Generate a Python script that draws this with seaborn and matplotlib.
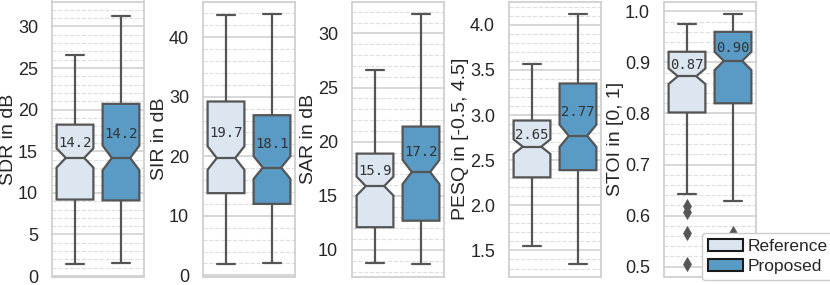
import numpy as np
import pandas as pd
import matplotlib
matplotlib.use("Agg")
import matplotlib.pyplot as plt
from matplotlib.patches import Patch
from matplotlib.ticker import MultipleLocator, AutoMinorLocator
import seaborn as sns

# Box summaries: [lower whisker, q1, median, q3, upper whisker]
methods = ["Reference", "Proposed"]
metrics = ["SDR", "SIR", "SAR", "PESQ", "STOI"]
ylabels = ["SDR in dB", "SIR in dB", "SAR in dB", "PESQ in [-0.5, 4.5]", "STOI in [0, 1]"]

sdr_ref = [1.4, 9.2, 14.2, 18.2, 26.6]
sdr_prop = [1.6, 9.1, 14.2, 20.7, 31.3]
sir_ref = [1.9, 13.8, 19.7, 29.2, 43.7]
sir_prop = [2.1, 12.0, 18.1, 26.9, 43.9]
sar_ref = [8.8, 12.1, 15.9, 18.9, 26.6]
sar_prop = [8.7, 12.7, 17.2, 21.4, 31.8]
pesq_ref = [1.55, 2.31, 2.65, 2.94, 3.57]
pesq_prop = [1.35, 2.39, 2.77, 3.35, 4.12]
stoi_ref = [0.643, 0.802, 0.873, 0.921, 0.976]
stoi_prop = [0.628, 0.820, 0.903, 0.960, 0.995]

# outliers (only STOI has any)
stoi_ref_outliers = [0.618, 0.607, 0.566, 0.505]
stoi_prop_outliers = [0.565]

n_files = 150  # number of test files per method (sets the notch size)

label_fmt = ["{:.1f}", "{:.1f}", "{:.1f}", "{:.2f}", "{:.2f}"]
tick_step = [5, 10, 5, 0.5, 0.1]

summaries = {
    "SDR": (sdr_ref, sdr_prop, [], []),
    "SIR": (sir_ref, sir_prop, [], []),
    "SAR": (sar_ref, sar_prop, [], []),
    "PESQ": (pesq_ref, pesq_prop, [], []),
    "STOI": (stoi_ref, stoi_prop, stoi_ref_outliers, stoi_prop_outliers),
}


def values_from_summary(summary, outliers, n):
    # a list of n scores whose quartiles/whiskers equal the summary
    lo, q1, med, q3, hi = summary
    k = (n - 2 - len(outliers)) // 3
    m = n - 2 - len(outliers) - 2 * k
    return list(outliers) + [lo] + [q1] * k + [med] * m + [q3] * k + [hi]


rows = []
for metric in metrics:
    ref, prop, ref_out, prop_out = summaries[metric]
    for method, summ, out in [("Reference", ref, ref_out), ("Proposed", prop, prop_out)]:
        for v in values_from_summary(summ, out, n_files):
            rows.append({"metric": metric, "method": method, "value": v})
df = pd.DataFrame(rows)

sns.set_theme(style="whitegrid")
plt.rcParams["font.family"] = ["Liberation Sans", "DejaVu Sans"]
plt.rcParams["axes.edgecolor"] = "#d0d0d0"
plt.rcParams["grid.color"] = "#d4d4d4"

colors = ["#dce6f1", "#5a9bc5"]
line_gray = "#555555"

fig = plt.figure(figsize=(8.3, 2.85), dpi=100)
lefts = [52, 203, 352, 509, 664]

for i, metric in enumerate(metrics):
    ax = fig.add_axes([lefts[i] / 830, 8.5 / 285, 92 / 830, 275 / 285])
    sub = df[df["metric"] == metric]
    sns.boxplot(data=sub, x="method", y="value", hue="method", order=methods,
                hue_order=methods, palette=colors, saturation=1, notch=True,
                width=0.8, linecolor=line_gray, linewidth=1.6, legend=False,
                flierprops=dict(marker="d", markerfacecolor=line_gray,
                                markeredgecolor=line_gray, markersize=7,
                                markeredgewidth=0.5),
                ax=ax)
    ax.set_xlabel("")
    ax.set_ylabel(ylabels[i], fontsize=14, labelpad=1)
    ax.tick_params(axis="x", labelbottom=False)
    ax.tick_params(axis="y", labelsize=13, pad=4)
    ax.yaxis.set_major_locator(MultipleLocator(tick_step[i]))
    ax.yaxis.set_minor_locator(AutoMinorLocator(5))
    ax.grid(which="major", axis="y", color="#d4d4d4", linewidth=1.3)
    ax.grid(which="minor", axis="y", color="#dedede", linestyle="--", linewidth=0.8)
    for s in ax.spines.values():
        s.set_linewidth(1.3)
    if metric == "SDR":
        ax.set_ylim(-0.05, 33.0)

    ref, prop, _, _ = summaries[metric]
    for pos, summ in enumerate([ref, prop]):
        med, q3 = summ[2], summ[3]
        ax.text(pos, med + 0.45 * (q3 - med), label_fmt[i].format(med),
                ha="center", va="center", fontsize=10, color="#333333",
                family="DejaVu Sans Mono")

handles = [Patch(facecolor=c, edgecolor="#1a1a1a", linewidth=1.5) for c in colors]
leg = fig.legend(handles, methods, loc="lower left", bbox_to_anchor=(702 / 830, 5 / 285),
                 borderaxespad=0, fontsize=12.5, frameon=True, edgecolor="#cccccc",
                 framealpha=1, borderpad=0.35, handletextpad=0.3, labelspacing=0.25,
                 handlelength=2.0)
leg.set_zorder(10)

fig.savefig("out.png", dpi=100)
